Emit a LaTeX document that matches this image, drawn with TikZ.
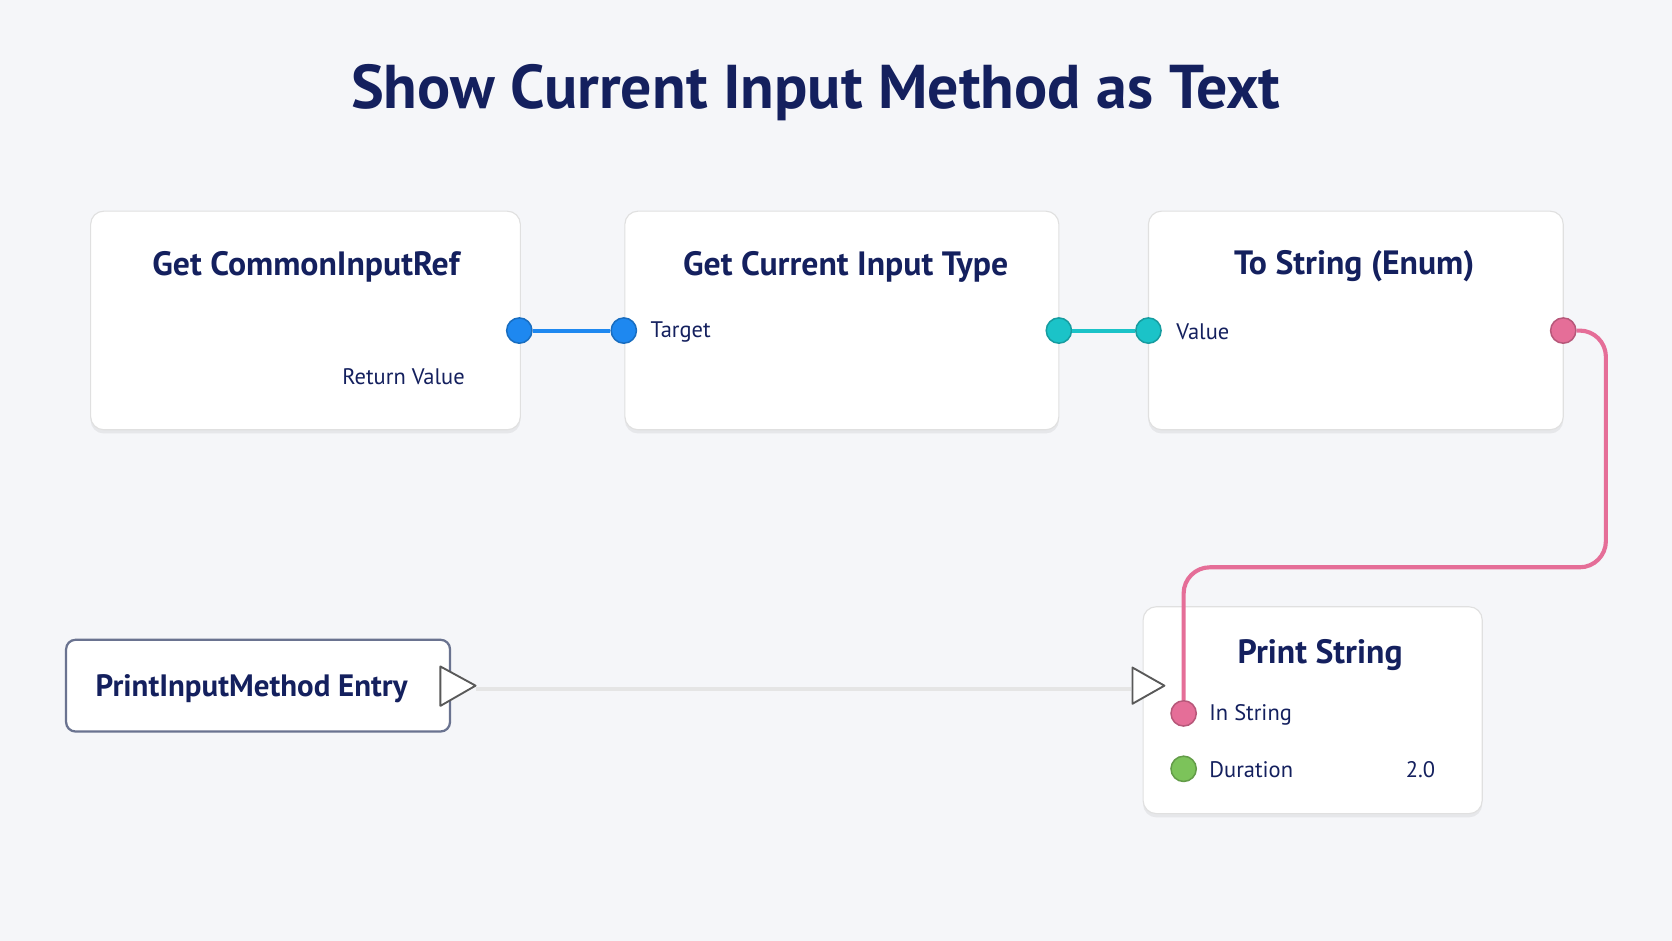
\documentclass[tikz,border=0pt]{standalone}
\usepackage{fontspec}
\setmainfont{PT Sans}
\usetikzlibrary{positioning,shadows}
\definecolor{ink}{HTML}{14205E}
\definecolor{paper}{HTML}{F5F6F9}
\definecolor{pinblue}{HTML}{1E88F0}
\definecolor{pinteal}{HTML}{1BC3C8}
\definecolor{pinpink}{HTML}{E56E98}
\definecolor{pingreen}{HTML}{7CC35A}
\definecolor{entryline}{HTML}{6A7390}
\newcommand{\fsz}[1]{\fontsize{#1}{#1}\selectfont}
\begin{document}
\begin{tikzpicture}[x=0.02cm,y=-0.02cm]
  \tikzset{
    box/.style={draw=black!12,fill=white,rounded corners=7pt,line width=0.6pt,
      drop shadow={opacity=0.12,shadow xshift=0pt,shadow yshift=-2pt}},
    head/.style={text=ink,font=\fsz{18}\bfseries},
    lbl/.style={text=ink,font=\fsz{12},anchor=west},
    pin/.style={circle,draw=#1!80!black,fill=#1,minimum size=13.5pt,inner sep=0pt,line width=0.8pt},
    wire/.style={line width=2.2pt,#1},
    exec/.style={draw=black!65,fill=white,line width=1pt,line join=round}
  }
  \fill[paper] (0,0) rectangle (1568,882);
  \useasboundingbox (0,0) rectangle (1568,882);
  \node[text=ink,font=\fsz{33}\bfseries] (title) at (765,87) {Show Current Input Method as Text};

  % nodes
  \draw[box] (85,198) rectangle (488,403);
  \node[head] (ref) at (287,250) {Get CommonInputRef};
  \node[lbl,anchor=east] (refret) at (442,353) {Return Value};
  \draw[box] (586,198) rectangle (993,403);
  \node[head] (type) at (793,250) {Get Current Input Type};
  \node[lbl] (target) at (604,311) {Target};
  \draw[box] (1077,198) rectangle (1466,403);
  \node[head] (enum) at (1270,250) {To String (Enum)};
  \node[lbl] (value) at (1097,311) {Value};
  \draw[box] (1072,569) rectangle (1390,763);
  \node[head] (print) at (1238,614) {Print String};
  \node[lbl] (instr) at (1128,670) {In String};
  \node[lbl] (dur) at (1128,722) {Duration};
  \node[lbl,anchor=east] (durval) at (1352,722) {2.0};
  \draw[draw=entryline,fill=white,rounded corners=5pt,line width=1.2pt] (62,600) rectangle (422,686);
  \node[text=ink,font=\fsz{16.5}\bfseries] (entry) at (236,646) {PrintInputMethod Entry};

  % exec
  \coordinate (eout) at (446,646);
  \coordinate (ein) at (1061,646);
  \draw[black!10,line width=2pt] (eout) -- (ein);
  \draw[exec] (413,625) -- (446,643) -- (413,662) -- cycle;
  \draw[exec] (1062,626) -- (1092,643) -- (1062,660) -- cycle;

  % wires
  \node[pin=pinblue] (p1) at (487,310) {};
  \node[pin=pinblue] (p2) at (585,310) {};
  \node[pin=pinteal] (p3) at (993,310) {};
  \node[pin=pinteal] (p4) at (1077,310) {};
  \node[pin=pinpink] (p5) at (1466,310) {};
  \node[pin=pinpink] (p6) at (1110,669) {};
  \node[pin=pingreen] (p7) at (1110,721) {};
  \draw[wire=pinblue] (p1) -- (p2);
  \draw[wire=pinteal] (p3) -- (p4);
  \draw[wire=pinpink,rounded corners=14pt] (p5.east) -- (1506,310) -- (1506,532) -- (1110,532) -- (p6.north);
\end{tikzpicture}
\end{document}
